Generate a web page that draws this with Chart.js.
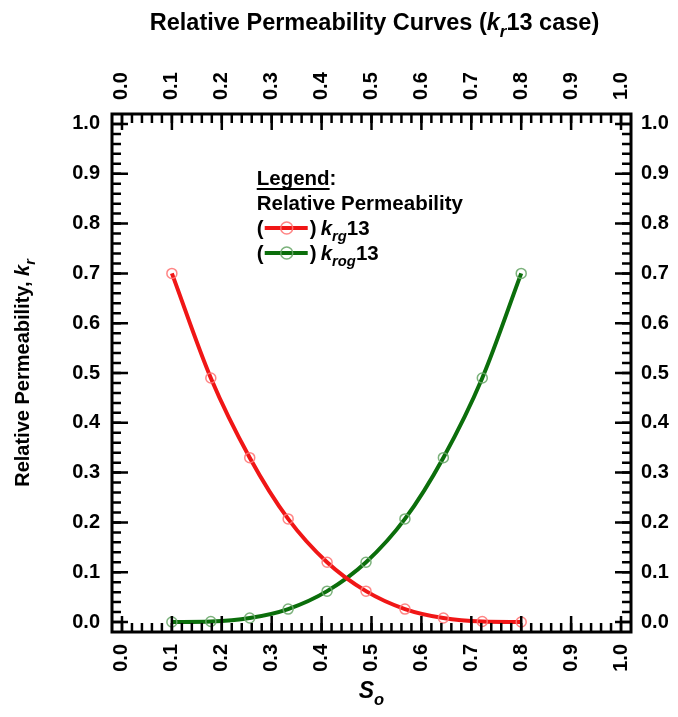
<!DOCTYPE html>
<html>
<head>
<meta charset="utf-8">
<script src="https://cdn.jsdelivr.net/npm/chart.js@4.4.0/dist/chart.umd.min.js"></script>
<style>
  body { margin: 0; background: #fff; }
</style>
</head>
<body>
<canvas id="myChart" width="678" height="717"></canvas>
<script>
// oil saturation at each point
const saturation = [0.1, 0.178, 0.256, 0.333, 0.411, 0.489, 0.567, 0.644, 0.722, 0.8]
// kr values
const krg13 = [0.70, 0.49, 0.33, 0.207, 0.12, 0.062, 0.026, 0.008, 0.001, 0.0]
const krog13 = [0.0, 0.001, 0.008, 0.026, 0.062, 0.12, 0.207, 0.33, 0.49, 0.70]
// tick values + labels (same on all four sides)
const tickValues = [0.0, 0.1, 0.2, 0.3, 0.4, 0.5, 0.6, 0.7, 0.8, 0.9, 1.0]
const tickLabels = ['0.0', '0.1', '0.2', '0.3', '0.4', '0.5', '0.6', '0.7', '0.8', '0.9', '1.0']

const RED = '#f01616'
const GREEN = '#0b6e0b'
const FONT = 'Arial, "Liberation Sans", sans-serif'

// minor ticks every 0.02
let minorTicks = []
for (let i = 0; i <= 50; i++) minorTicks.push(i / 50)

function toPoints(xs, ys) {
  return xs.map((x, i) => ({ x: x, y: ys[i] }))
}

// draws a run of text pieces, some italic and/or subscript
function drawRich(ctx, parts, x, y, size, align) {
  const fontFor = p => (p.i ? 'italic ' : '') + 'bold ' + (p.sub ? size * 0.72 : size) + 'px ' + FONT
  let total = 0
  parts.forEach(p => { ctx.font = fontFor(p); p.w = ctx.measureText(p.t).width; total += p.w })
  let cx = align === 'center' ? x - total / 2 : x
  ctx.textAlign = 'left'
  ctx.textBaseline = 'alphabetic'
  parts.forEach(p => {
    ctx.font = fontFor(p)
    ctx.fillText(p.t, cx, p.sub ? y + size * 0.3 : y)
    cx += p.w
  })
  return total
}

// frame + inward ticks on all sides
const frameTicks = {
  id: 'frameTicks',
  afterDatasetsDraw(chart) {
    const ctx = chart.ctx
    const a = chart.chartArea
    const xs = chart.scales.x
    const ys = chart.scales.y
    ctx.save()
    ctx.strokeStyle = '#000'
    ctx.lineWidth = 2.5
    const tick = (v, len) => {
      const px = xs.getPixelForValue(v)
      const py = ys.getPixelForValue(v)
      ctx.beginPath()
      ctx.moveTo(px, a.bottom); ctx.lineTo(px, a.bottom - len)
      ctx.moveTo(px, a.top); ctx.lineTo(px, a.top + len)
      ctx.moveTo(a.left, py); ctx.lineTo(a.left + len, py)
      ctx.moveTo(a.right, py); ctx.lineTo(a.right - len, py)
      ctx.stroke()
    }
    minorTicks.forEach(v => tick(v, 9))
    tickValues.forEach(v => tick(v, 16))
    ctx.lineWidth = 3
    ctx.strokeRect(a.left, a.top, a.right - a.left, a.bottom - a.top)
    ctx.restore()
  }
}

// titles and the text legend
const titlesLegend = {
  id: 'titlesLegend',
  afterDraw(chart) {
    const ctx = chart.ctx
    const a = chart.chartArea
    const midX = (a.left + a.right) / 2
    const midY = (a.top + a.bottom) / 2
    ctx.save()
    ctx.fillStyle = '#000'

    drawRich(ctx, [{ t: 'Relative Permeability Curves (' }, { t: 'k', i: true }, { t: 'r', i: true, sub: true }, { t: '13 case)' }],
      midX + 3, 30, 23.5, 'center')

    ctx.save()
    ctx.translate(29, midY)
    ctx.rotate(-Math.PI / 2)
    drawRich(ctx, [{ t: 'Relative Permeability, ' }, { t: 'k', i: true }, { t: 'r', i: true, sub: true }], 0, 0, 20, 'center')
    ctx.restore()

    drawRich(ctx, [{ t: 'S', i: true }, { t: 'o', i: true, sub: true }], midX, 698, 23, 'center')

    // legend
    const lx = chart.scales.x.getPixelForValue(0.27)
    const top = a.top
    const fs = 20.5
    const w = drawRich(ctx, [{ t: 'Legend' }], lx, top + 71, fs, 'left')
    drawRich(ctx, [{ t: ':' }], lx + w, top + 71, fs, 'left')
    ctx.fillRect(lx, top + 74, w, 2)
    drawRich(ctx, [{ t: 'Relative Permeability' }], lx, top + 96, fs, 'left')

    const rows = [
      { color: RED, ring: 'rgba(255,120,120,0.9)', parts: [{ t: 'k', i: true }, { t: 'rg', i: true, sub: true }, { t: '13' }], y: top + 121 },
      { color: GREEN, ring: 'rgba(110,170,110,0.9)', parts: [{ t: 'k', i: true }, { t: 'rog', i: true, sub: true }, { t: '13' }], y: top + 146 }
    ]
    rows.forEach(r => {
      drawRich(ctx, [{ t: '(' }], lx, r.y, fs, 'left')
      ctx.strokeStyle = r.color
      ctx.lineWidth = 4
      ctx.beginPath()
      ctx.moveTo(lx + 8, r.y - 7)
      ctx.lineTo(lx + 51, r.y - 7)
      ctx.stroke()
      ctx.strokeStyle = r.ring
      ctx.lineWidth = 1.5
      ctx.beginPath()
      ctx.arc(lx + 30, r.y - 7, 6, 0, Math.PI * 2)
      ctx.stroke()
      drawRich(ctx, [{ t: ')' }], lx + 53, r.y, fs, 'left')
      drawRich(ctx, r.parts, lx + 64, r.y, fs, 'left')
    })
    ctx.restore()
  }
}

const axisFont = { family: FONT, size: 20, weight: 'bold' }
function fixedTicks(scale) {
  scale.ticks = tickValues.map(v => ({ value: v }))
}
function axis(position, pad, fit, shift) {
  const horiz = position === 'top' || position === 'bottom'
  return {
    type: 'linear',
    position: position,
    min: -0.02,
    max: 1.02,
    grid: { display: false, drawTicks: false },
    border: { display: false },
    afterBuildTicks: fixedTicks,
    afterFit: fit,
    ticks: {
      font: axisFont,
      color: '#000',
      padding: pad,
      autoSkip: false,
      labelOffset: shift || 0,
      minRotation: horiz ? 90 : 0,
      maxRotation: horiz ? 90 : 0,
      callback: (v, i) => tickLabels[i]
    }
  }
}

const data = {
  datasets: [
    {
      label: 'krg13',
      data: toPoints(saturation, krg13),
      borderColor: RED,
      borderWidth: 4,
      cubicInterpolationMode: 'monotone',
      pointRadius: 5,
      pointBorderWidth: 1.5,
      pointBorderColor: 'rgba(255,120,120,0.9)',
      pointBackgroundColor: 'rgba(255,255,255,0)'
    },
    {
      label: 'krog13',
      data: toPoints(saturation, krog13),
      borderColor: GREEN,
      borderWidth: 4,
      cubicInterpolationMode: 'monotone',
      pointRadius: 5,
      pointBorderWidth: 1.5,
      pointBorderColor: 'rgba(110,170,110,0.9)',
      pointBackgroundColor: 'rgba(255,255,255,0)'
    }
  ]
}

const config = {
  type: 'line',
  data,
  options: {
    responsive: false,
    animation: false,
    layout: { padding: 0 },
    plugins: { legend: { display: false }, tooltip: { enabled: false }, title: { display: false } },
    scales: {
      x: axis('bottom', 12, s => { s.height = 85 }),
      x2: axis('top', 14, s => { s.height = 114 }, 24),
      y: axis('left', 12, s => { s.width = 112 }),
      y2: axis('right', 10, s => { s.width = 47 })
    }
  },
  plugins: [frameTicks, titlesLegend]
}

var myChart = new Chart(document.getElementById('myChart'), config)
</script>
</body>
</html>
